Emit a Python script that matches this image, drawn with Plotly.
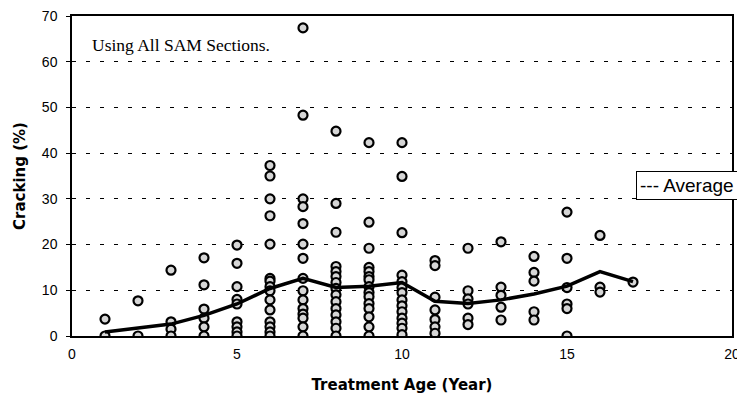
import plotly.graph_objects as go

# ---- data ----
ages = list(range(1, 18))
crack_1 = [3.7, 0]
crack_2 = [7.7, 0]
crack_3 = [14.4, 3.1, 1.5, 0]
crack_4 = [17.1, 11.2, 5.9, 3.9, 2.0, 0]
crack_5 = [19.9, 15.9, 10.8, 8.0, 7.0, 3.1, 2.0, 0.9, 0]
crack_6 = [37.3, 35.0, 30.0, 26.3, 20.1, 12.6, 12.0, 10.8, 9.9, 7.9, 5.7, 3.1, 2.0, 0.9, 0]
crack_7 = [67.4, 48.3, 30.0, 28.3, 24.6, 20.1, 17.0, 12.6, 9.9, 7.9, 6.0, 4.8, 3.9, 2.0, 0]
crack_8 = [44.8, 29.0, 22.7, 15.2, 14.1, 13.0, 11.7, 10.4, 9.0, 7.5, 6.0, 4.6, 3.1, 1.7, 0]
crack_9 = [42.3, 24.9, 19.2, 15.0, 14.1, 13.0, 12.3, 10.8, 9.5, 8.6, 7.1, 6.0, 4.2, 2.0, 0]
crack_10 = [42.3, 34.9, 22.6, 13.3, 11.9, 10.6, 9.5, 7.9, 6.6, 5.3, 3.9, 2.8, 1.7, 0.3]
crack_11 = [16.5, 15.4, 8.5, 5.7, 3.6, 2.0, 0.6]
crack_12 = [19.2, 9.9, 8.1, 7.0, 3.9, 2.5]
crack_13 = [20.6, 10.7, 8.9, 6.3, 3.5]
crack_14 = [17.4, 13.9, 12.0, 5.3, 3.5]
crack_15 = [27.1, 17.0, 10.6, 7.0, 6.0, 0]
crack_16 = [22.0, 10.7, 9.6]
crack_17 = [11.8]
average = [0.9, 1.7, 2.6, 4.5, 7.0, 10.4, 12.6, 10.6, 10.9, 11.7, 7.6, 7.1, 7.9, 9.2, 10.9, 14.1, 11.9]

x_ticks = [0, 5, 10, 15, 20]
y_ticks = [0, 10, 20, 30, 40, 50, 60, 70]

columns = [crack_1, crack_2, crack_3, crack_4, crack_5, crack_6, crack_7, crack_8,
           crack_9, crack_10, crack_11, crack_12, crack_13, crack_14, crack_15,
           crack_16, crack_17]
sx, sy = [], []
for a, col in zip(ages, columns):
    sx += [a] * len(col)
    sy += col

fig = go.Figure()
fig.add_trace(go.Scatter(
    x=sx, y=sy, mode="markers", showlegend=False,
    marker=dict(symbol="circle", size=9, color="#d6d6d6",
                line=dict(color="black", width=2.2)),
))
fig.add_trace(go.Scatter(
    x=ages, y=average, mode="lines", showlegend=False,
    line=dict(color="black", width=3.5),
))

fig.add_annotation(
    xref="paper", yref="paper", x=0.027, y=0.909, xanchor="left", yanchor="middle",
    text="Using All SAM Sections.", showarrow=False,
    font=dict(family="Liberation Serif", size=17.5, color="black"),
)
fig.add_annotation(
    xref="paper", yref="y", x=0.8545, y=33, xanchor="left", yanchor="middle",
    text="--- Average", showarrow=False, align="left",
    font=dict(family="Liberation Sans", size=19, color="black"),
    bordercolor="black", borderwidth=1, borderpad=3, bgcolor="white",
)

# the page body adds an 8px offset, so the figure is sized to fit 745x411
fig.update_layout(
    width=737, height=403,
    margin=dict(l=64, r=13, t=8, b=75),
    plot_bgcolor="white", paper_bgcolor="white",
    font=dict(family="Liberation Sans", size=14, color="black"),
)
fig.update_xaxes(
    range=[0, 20], tickvals=x_ticks, showgrid=False, zeroline=False,
    showline=True, linecolor="black", linewidth=1.5, mirror=True,
    ticks="", ticklabelstandoff=4, automargin=False, ticklabeloverflow="allow",
    tickfont=dict(size=14),
    title=dict(text="<b>Treatment Age (Year)</b>", standoff=19,
               font=dict(family="DejaVu Sans", size=15)),
)
fig.update_yaxes(
    range=[0, 70], tickvals=y_ticks, showgrid=True, gridcolor="black",
    gridwidth=1, griddash="4px,10px", zeroline=False,
    showline=True, linecolor="black", linewidth=1.5, mirror=True,
    ticks="outside", ticklen=4, tickcolor="black", automargin=False,
    ticklabeloverflow="allow",
    tickfont=dict(size=14), ticklabelstandoff=6,
    title=dict(text="<b>Cracking (%)</b>", standoff=13,
               font=dict(family="DejaVu Sans", size=15)),
)

fig.write_html("out.html")
